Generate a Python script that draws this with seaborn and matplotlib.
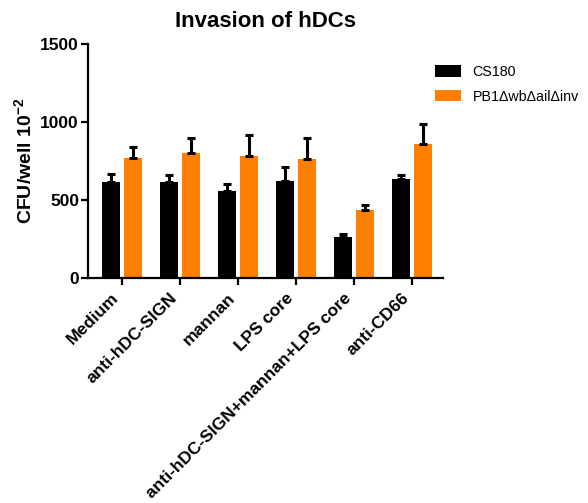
import numpy as np
import pandas as pd
import matplotlib
matplotlib.use("Agg")
import matplotlib.pyplot as plt
import seaborn as sns

# data
treatments = ["Medium", "anti-hDC-SIGN", "mannan", "LPS core",
              "anti-hDC-SIGN+mannan+LPS core", "anti-CD66"]
strains = ["CS180", "PB1\u0394wb\u0394ail\u0394inv"]
cs180_mean = [618, 618, 558, 623, 261, 633]
cs180_sem = [48, 43, 45, 87, 21, 30]
pb1_mean = [768, 804, 779, 762, 434, 858]
pb1_sem = [75, 93, 139, 138, 36, 128]

sns.set_style("ticks")
plt.rcParams['font.family'] = ['Liberation Sans', 'DejaVu Sans']
plt.rcParams.update({"text.color": "black", "axes.edgecolor": "black",
                     "axes.labelcolor": "black", "xtick.color": "black",
                     "ytick.color": "black", "mathtext.fontset": "custom",
                     "mathtext.bf": "Liberation Sans:bold",
                     "mathtext.rm": "Liberation Sans"})

df = pd.DataFrame({
    "treatment": treatments * 2,
    "strain": [strains[0]] * 6 + [strains[1]] * 6,
    "cfu": cs180_mean + pb1_mean,
})

fig = plt.figure(figsize=(5.88, 5.03), dpi=100)
ax = fig.add_axes([0.1497, 0.4473, 0.6037, 0.4652])

sns.barplot(data=df, x="treatment", y="cfu", hue="strain", order=treatments,
            hue_order=strains, palette=["#000000", "#FF8000"], saturation=1,
            width=0.76, gap=0.18, errorbar=None, ax=ax, legend=True, linewidth=0)

# one-sided error bars on top of each bar
for cont, err in zip(ax.containers, [cs180_sem, pb1_sem]):
    xs = [p.get_x() + p.get_width() / 2 for p in cont.patches]
    ys = [p.get_height() for p in cont.patches]
    ax.errorbar(xs, ys, yerr=[np.zeros(len(err)), err], fmt="none",
                ecolor="black", elinewidth=2.2, capsize=2.8, capthick=2.2)

ax.set_ylim(0, 1500)
ax.set_xlim(-0.58, 5.53)
ax.set_yticks([0, 500, 1000, 1500])
ax.set_xlabel("")
ax.set_ylabel("CFU/well 10$^{\\mathbf{-2}}$", fontsize=14, fontweight="bold", labelpad=3)
ax.set_title("Invasion of hDCs", fontsize=16, fontweight="bold", pad=12)
sns.despine(ax=ax)
for s in ["left", "bottom"]:
    ax.spines[s].set_linewidth(1.6)
ax.tick_params(axis="both", width=1.6, length=5, labelsize=12.5, pad=1.5)
ax.tick_params(axis="x", pad=4)
for lab in ax.get_yticklabels():
    lab.set_fontweight("bold")
ax.set_xticks(range(len(treatments)))
ax.set_xticklabels(treatments, rotation=45, ha="right",
                   fontweight="bold", fontsize=12.5)

handles, labels = ax.get_legend_handles_labels()
ax.legend_.remove()
fig.legend(handles, labels, loc="upper left", bbox_to_anchor=(0.727, 0.885),
           frameon=False, fontsize=10.3, handlelength=1.85, handleheight=0.85,
           handletextpad=0.8, labelspacing=0.75, borderpad=0)

fig.savefig("out.png", dpi=100)
